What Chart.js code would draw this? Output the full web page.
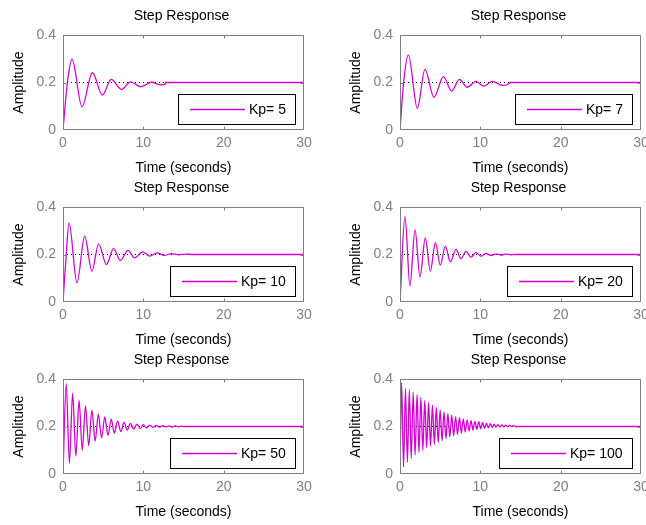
<!DOCTYPE html>
<html>
<head>
<meta charset="utf-8">
<title>Step Response</title>
<script src="https://cdn.jsdelivr.net/npm/chart.js@4.4.1/dist/chart.umd.min.js"></script>
<style>
  html, body { margin: 0; padding: 0; background: #fff; overflow: hidden; }
  #page { position: relative; width: 646px; height: 525px; overflow: hidden; background: #fff; }
  #page canvas { position: absolute; }
</style>
</head>
<body>
<div id="page"></div>
<script>
// step responses, [time (s), amplitude]
const kpValues = [5, 7, 10, 20, 50, 100];

const resp5 = [[0, 0], [0.55, 0.2], [1.12, 0.298], [2.37, 0.098], [3.66, 0.241], [4.9, 0.147],
  [6.0, 0.213], [7.3, 0.171], [8.4, 0.203], [9.7, 0.182], [11.0, 0.201], [12.2, 0.19],
  [12.7, 0.193], [12.8, 0.2], [30, 0.2]];

const resp7 = [[0, 0], [0.45, 0.2], [1.04, 0.316], [2.16, 0.091], [3.11, 0.255], [4.23, 0.138],
  [5.4, 0.225], [6.43, 0.164], [7.39, 0.213], [8.38, 0.18], [9.46, 0.205], [10.4, 0.185],
  [11.5, 0.205], [12.8, 0.188], [13.6, 0.195], [13.7, 0.2], [30, 0.2]];

const resp10 = [[0, 0], [0.4, 0.2], [0.75, 0.333], [1.74, 0.081], [2.7, 0.277], [3.6, 0.13],
  [4.44, 0.245], [5.4, 0.158], [6.3, 0.225], [7.14, 0.175], [8.1, 0.217], [8.9, 0.186],
  [9.9, 0.211], [10.8, 0.193], [11.7, 0.207], [12.6, 0.196], [13.5, 0.204], [14.4, 0.199],
  [15.3, 0.202], [16.2, 0.2], [30, 0.2]];

const resp20 = [[0, 0], [0.62, 0.36], [1.24, 0.067], [1.87, 0.305], [2.49, 0.105], [3.15, 0.27],
  [3.78, 0.13], [4.4, 0.25], [5.02, 0.155], [5.64, 0.235], [6.27, 0.169], [6.97, 0.222],
  [7.59, 0.182], [8.22, 0.213], [8.84, 0.188], [9.46, 0.208], [10.08, 0.193], [10.7, 0.205],
  [11.33, 0.196], [11.95, 0.203], [12.57, 0.198], [13.2, 0.202], [13.8, 0.199], [14.3, 0.2],
  [30, 0.2]];

const resp50 = [[0, 0], [0.4, 0.38], [0.8, 0.045], [1.2, 0.34], [1.6, 0.075], [2.0, 0.31],
  [2.4, 0.1], [2.8, 0.287], [3.2, 0.12], [3.6, 0.268], [4.0, 0.138], [4.4, 0.252],
  [4.8, 0.152], [5.2, 0.24], [5.6, 0.163], [6.0, 0.231], [6.4, 0.172], [6.8, 0.223],
  [7.2, 0.179], [7.6, 0.217], [8.0, 0.185], [8.4, 0.213], [8.8, 0.189], [9.2, 0.21],
  [9.6, 0.192], [10.0, 0.208], [10.4, 0.194], [10.8, 0.206], [11.2, 0.196], [11.6, 0.205],
  [12.0, 0.197], [12.4, 0.204], [12.8, 0.198], [13.2, 0.203], [13.6, 0.198], [14.0, 0.203],
  [14.4, 0.199], [14.8, 0.202], [15.0, 0.2], [30, 0.2]];

const resp100 = [[0, 0], [0.2, 0.385], [0.44, 0.03], [0.68, 0.36], [0.92, 0.05], [1.16, 0.355],
  [1.4, 0.065], [1.64, 0.345], [1.88, 0.08], [2.12, 0.335], [2.36, 0.09], [2.6, 0.322],
  [2.84, 0.1], [3.08, 0.31], [3.32, 0.11], [3.56, 0.3], [3.8, 0.118], [4.04, 0.29],
  [4.28, 0.125], [4.52, 0.28], [4.76, 0.133], [5.0, 0.27], [5.24, 0.14], [5.48, 0.262],
  [5.72, 0.148], [5.96, 0.255], [6.2, 0.155], [6.44, 0.248], [6.68, 0.161], [6.92, 0.242],
  [7.16, 0.167], [7.4, 0.237], [7.64, 0.172], [7.88, 0.232], [8.12, 0.177], [8.36, 0.228],
  [8.6, 0.181], [8.84, 0.225], [9.08, 0.185], [9.32, 0.222], [9.56, 0.188], [9.8, 0.22],
  [10.04, 0.19], [10.28, 0.217], [10.52, 0.192], [10.76, 0.214], [11.0, 0.194], [11.24, 0.212],
  [11.48, 0.196], [11.72, 0.21], [11.96, 0.197], [12.2, 0.209], [12.44, 0.198], [12.68, 0.207],
  [12.92, 0.199], [13.16, 0.206], [13.4, 0.199], [13.64, 0.205], [13.88, 0.2], [14.12, 0.204],
  [14.36, 0.2], [30, 0.2]];

const responses = [resp5, resp7, resp10, resp20, resp50, resp100];
const steadyValue = 0.2;
const xTicks = [0, 10, 20, 30];
const yTicks = [0, 0.2, 0.4];
const plotTitle = 'Step Response';

const FONT = '"Liberation Sans", Arial, sans-serif';
const MAGENTA = '#d400d4';
const GREY = '#808080';

// title over the plot area, box, inward ticks and the boxed legend, MATLAB style
const matlabAxes = {
  id: 'matlabAxes',
  afterDatasetsDraw(chart) {
    const { ctx, chartArea: a, scales: { x, y } } = chart;
    const L = Math.round(a.left) + 0.5, T = Math.round(a.top) + 0.5;
    const R = Math.round(a.right) - 0.5, B = Math.round(a.bottom) - 0.5;
    ctx.save();
    ctx.font = '14px ' + FONT;
    ctx.fillStyle = '#000';
    ctx.textAlign = 'center';
    ctx.textBaseline = 'middle';
    ctx.fillText(plotTitle, (a.left + a.right) / 2 - 2, 16);

    ctx.lineWidth = 1;
    ctx.strokeStyle = GREY;
    ctx.strokeRect(L, T, R - L, B - T);
    ctx.beginPath();
    x.ticks.forEach(t => {
      if (t.value <= x.min || t.value >= x.max) return;
      const px = Math.round(x.getPixelForValue(t.value)) + 0.5;
      ctx.moveTo(px, B); ctx.lineTo(px, B - 3);
      ctx.moveTo(px, T); ctx.lineTo(px, T + 3);
    });
    y.ticks.forEach(t => {
      if (t.value <= y.min || t.value >= y.max) return;
      const py = Math.round(y.getPixelForValue(t.value)) + 0.5;
      ctx.moveTo(L, py); ctx.lineTo(L + 3, py);
      ctx.moveTo(R, py); ctx.lineTo(R - 3, py);
    });
    ctx.stroke();

    const label = chart.data.datasets[0].label;
    ctx.textAlign = 'left';
    const tw = ctx.measureText(label).width;
    const w = Math.round(12 + 55 + 4 + tw + 9), h = 30;
    const bx = Math.round(a.right - 9 - w), by = Math.round(a.bottom - 6 - h);
    ctx.fillStyle = '#fff';
    ctx.fillRect(bx, by, w, h);
    ctx.strokeStyle = '#000';
    ctx.strokeRect(bx + 0.5, by + 0.5, w, h);
    ctx.strokeStyle = MAGENTA;
    ctx.lineWidth = 1.3;
    ctx.beginPath();
    ctx.moveTo(bx + 12, by + 15.5);
    ctx.lineTo(bx + 67, by + 15.5);
    ctx.stroke();
    ctx.fillStyle = '#000';
    ctx.fillText(label, bx + 71, by + 16);
    ctx.restore();
  }
};

const page = document.getElementById('page');

kpValues.forEach((kp, i) => {
  const canvas = document.createElement('canvas');
  canvas.width = 320;
  canvas.height = 180;
  canvas.style.left = (i % 2 ? 337 : 0) + 'px';
  canvas.style.top = (Math.floor(i / 2) * 172) + 'px';
  page.appendChild(canvas);

  new Chart(canvas.getContext('2d'), {
    type: 'line',
    data: {
      datasets: [{
        label: 'Kp= ' + kp,
        data: responses[i].map(p => ({ x: p[0], y: p[1] })),
        borderColor: MAGENTA,
        borderWidth: 1.3,
        pointRadius: 0,
        cubicInterpolationMode: 'monotone',
      }, {
        label: 'steady state',
        data: [{ x: xTicks[0], y: steadyValue }, { x: xTicks[xTicks.length - 1], y: steadyValue }],
        borderColor: '#000',
        borderWidth: 1,
        borderDash: [1, 3],
        pointRadius: 0,
      }],
    },
    options: {
      responsive: false,
      animation: false,
      events: [],
      layout: { padding: { top: 35, left: 0, right: 16, bottom: 0 } },
      plugins: {
        legend: { display: false },
        tooltip: { enabled: false },
        title: { display: false },
      },
      scales: {
        x: {
          type: 'linear',
          min: 0,
          max: 30,
          afterBuildTicks: s => { s.ticks = xTicks.map(v => ({ value: v })); },
          afterFit: s => { s.height = 50; },
          ticks: { color: GREY, font: { family: FONT, size: 14 }, padding: 5, maxRotation: 0, callback: v => String(v) },
          grid: { display: false, drawTicks: false },
          border: { display: false },
          title: { display: true, text: 'Time (seconds)', color: '#000', font: { family: FONT, size: 14 }, padding: { top: 0, bottom: 3.6 } },
        },
        y: {
          min: 0,
          max: 0.4,
          afterBuildTicks: s => { s.ticks = yTicks.map(v => ({ value: v })); },
          afterFit: s => { s.width = 63; },
          ticks: { color: GREY, font: { family: FONT, size: 14 }, padding: 7, callback: v => String(v) },
          grid: { display: false, drawTicks: false },
          border: { display: false },
          title: { display: true, text: 'Amplitude', color: '#000', font: { family: FONT, size: 14 }, padding: { top: 10.6, bottom: 0 } },
        },
      },
    },
    plugins: [matlabAxes],
  });
});
</script>
</body>
</html>
